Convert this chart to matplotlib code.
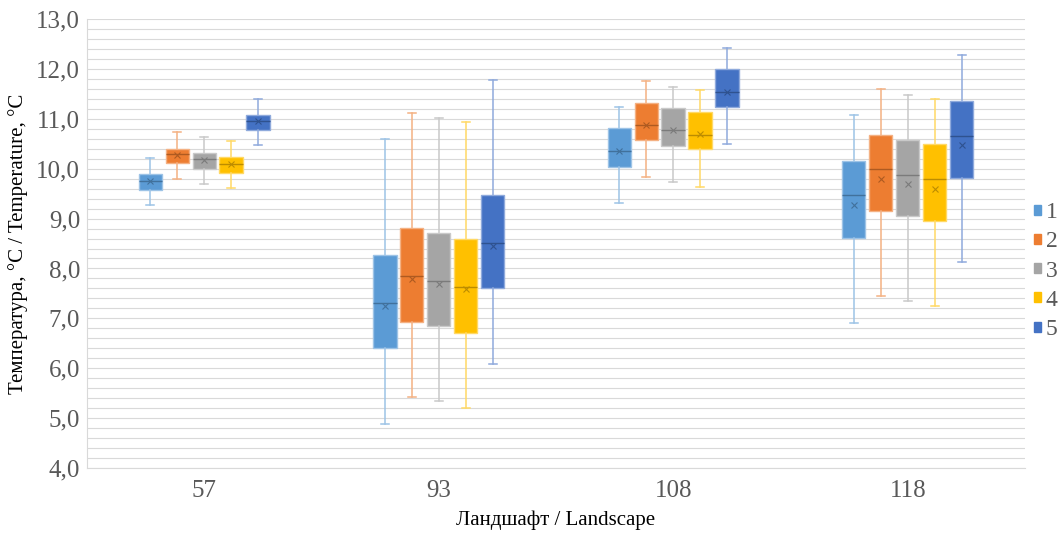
import numpy as np
import matplotlib.pyplot as plt
from matplotlib.patches import Patch
from matplotlib.ticker import MultipleLocator, FuncFormatter

plt.rcParams['font.family'] = ['Liberation Serif', 'DejaVu Serif']

# landscapes on the x axis
landscapes = ['57', '93', '108', '118']
series = ['1', '2', '3', '4', '5']
colors = ['#5B9BD5', '#ED7D31', '#A5A5A5', '#FFC000', '#4472C4']
dark = ['#41719C', '#AE5A21', '#7B7B7B', '#BC8C00', '#2F528F']
light = ['#9DC3E6', '#F4B183', '#C9C9C9', '#FFD966', '#8FAADC']

# values per series, one number per landscape (57, 93, 108, 118)
wlo = [[9.27, 4.88, 9.31, 6.91],
       [9.80, 5.43, 9.83, 7.45],
       [9.69, 5.34, 9.73, 7.35],
       [9.61, 5.20, 9.64, 7.24],
       [10.47, 6.09, 10.50, 8.12]]
q1 = [[9.57, 6.40, 10.04, 8.61],
      [10.11, 6.93, 10.57, 9.15],
      [10.00, 6.85, 10.46, 9.05],
      [9.92, 6.71, 10.39, 8.95],
      [10.78, 7.60, 11.23, 9.81]]
med = [[9.75, 7.30, 10.35, 9.47],
       [10.29, 7.85, 10.87, 9.99],
       [10.19, 7.75, 10.78, 9.88],
       [10.09, 7.63, 10.68, 9.79],
       [10.95, 8.51, 11.54, 10.65]]
q3 = [[9.89, 8.28, 10.81, 10.15],
      [10.40, 8.82, 11.32, 10.68],
      [10.31, 8.72, 11.22, 10.58],
      [10.23, 8.60, 11.14, 10.49],
      [11.08, 9.47, 11.99, 11.35]]
whi = [[10.22, 10.59, 11.24, 11.08],
       [10.73, 11.12, 11.76, 11.59],
       [10.63, 11.01, 11.64, 11.48],
       [10.56, 10.94, 11.58, 11.40],
       [11.40, 11.78, 12.42, 12.27]]
means = [[9.75, 7.25, 10.36, 9.27],
         [10.27, 7.79, 10.87, 9.80],
         [10.18, 7.69, 10.77, 9.70],
         [10.09, 7.58, 10.69, 9.60],
         [10.95, 8.45, 11.54, 10.47]]

fig = plt.figure(figsize=(10.61, 5.37), dpi=100)
ax = fig.add_axes([0.082, 0.1285, 0.884, 0.836])

x = np.arange(len(landscapes))
step = 0.115
for i in range(len(series)):
    stats = []
    for j in range(len(landscapes)):
        stats.append(dict(whislo=wlo[i][j], q1=q1[i][j], med=med[i][j],
                          q3=q3[i][j], whishi=whi[i][j], mean=means[i][j],
                          fliers=[]))
    pos = x + (i - 2) * step
    ax.bxp(stats, positions=pos, widths=0.1, patch_artist=True,
           showmeans=True, showfliers=False, capwidths=0.035,
           boxprops=dict(facecolor=colors[i], edgecolor=light[i], linewidth=1),
           medianprops=dict(color=dark[i], linewidth=1),
           whiskerprops=dict(color=light[i], linewidth=1.1),
           capprops=dict(color=light[i], linewidth=1.1),
           meanprops=dict(marker='x', markeredgecolor=dark[i], markersize=5,
                          markeredgewidth=0.8),
           zorder=3)

ax.set_xlim(-0.5, 3.5)
ax.set_ylim(4, 13)
ax.set_xticks(x)
ax.set_xticklabels(landscapes)
ax.yaxis.set_major_locator(MultipleLocator(1))
ax.yaxis.set_minor_locator(MultipleLocator(0.2))
ax.yaxis.set_major_formatter(FuncFormatter(lambda v, p: f'{v:.1f}'.replace('.', ',')))
ax.grid(True, axis='y', which='both', color='#D9D9D9', linewidth=0.8, zorder=0)
ax.tick_params(axis='both', which='both', length=0, labelsize=18, labelcolor='#595959')
ax.tick_params(axis='y', pad=5)
ax.tick_params(axis='x', pad=9)
for s in ['top', 'right']:
    ax.spines[s].set_visible(False)
for s in ['left', 'bottom']:
    ax.spines[s].set_color('#D9D9D9')
    ax.spines[s].set_linewidth(0.8)

ax.set_xlabel('Ландшафт / Landscape', fontsize=15, labelpad=6)
ax.set_ylabel('Температура, °C / Temperature, °C', fontsize=15, labelpad=6)

handles = [Patch(facecolor=c, edgecolor=c) for c in colors]
fig.legend(handles, series, loc='center left', bbox_to_anchor=(0.975, 0.495),
           frameon=False, fontsize=17, handlelength=0.28, handleheight=0.28,
           handletextpad=0.2, labelspacing=0.35, borderpad=0, borderaxespad=0,
           labelcolor='#595959')

fig.savefig('out.png', dpi=100)
